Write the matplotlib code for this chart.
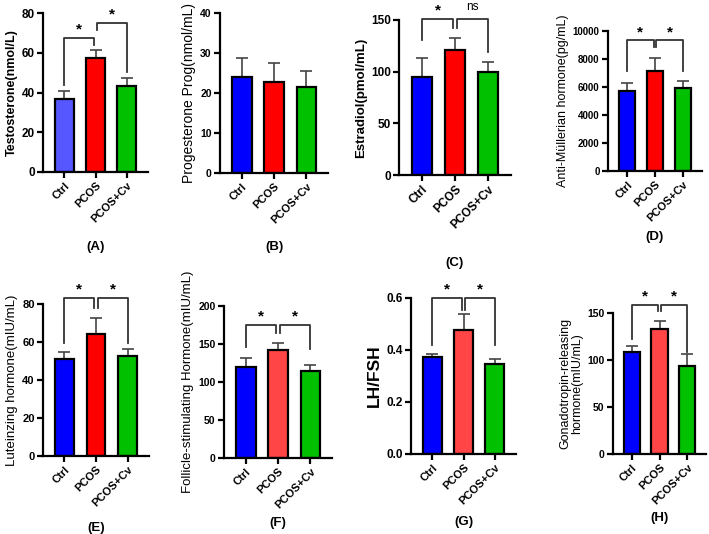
import numpy as np
import matplotlib
matplotlib.use("Agg")
import matplotlib.pyplot as plt

plt.rcParams["font.family"] = ["Liberation Sans", "DejaVu Sans"]

W, H = 709, 534  # figure size in pixels

groups = ["Ctrl", "PCOS", "PCOS+Cv"]

# means and upper error (SD)
testo_mean = [36.5, 57.5, 43.5]
testo_err = [4.5, 4.0, 4.0]
prog_mean = [24.0, 22.8, 21.6]
prog_err = [4.8, 4.8, 3.8]
estra_mean = [95, 121, 99.5]
estra_err = [18, 12, 9.5]
amh_mean = [5700, 7150, 5950]
amh_err = [600, 950, 450]
lh_mean = [51, 64, 52.5]
lh_err = [4, 8.5, 4]
fsh_mean = [120, 142, 114]
fsh_err = [12, 9, 9]
ratio_mean = [0.372, 0.477, 0.346]
ratio_err = [0.012, 0.06, 0.021]
gnrh_mean = [108, 133.5, 93.5]
gnrh_err = [7, 7.5, 13]

# significance brackets: (i, j, top, leg_i end, leg_j end, text)
testo_sig = [(0, 1, 67.5, 43.7, 64, "*"), (1, 2, 75, 71.5, 50.5, "*")]
estra_sig = [(0, 1, 151, 131, 142, "*"), (1, 2, 151, 142, 119, "ns")]
amh_sig = [(0, 1, 9330, 7120, 8860, "*"), (1, 2, 9330, 8860, 7120, "*")]
lh_sig = [(0, 1, 83, 59.6, 77.7, "*"), (1, 2, 83, 77.7, 59.3, "*")]
fsh_sig = [(0, 1, 175, 146, 164, "*"), (1, 2, 175, 164, 144, "*")]
ratio_sig = [(0, 1, 0.6, 0.42, 0.555, "*"), (1, 2, 0.6, 0.555, 0.42, "*")]
gnrh_sig = [(0, 1, 159, 122.7, 151.8, "*"), (1, 2, 159, 151.8, 108.5, "*")]

BLUE, LBLUE = "#0000ff", "#5757ff"
RED, LRED = "#ff0000", "#ff4545"
GREEN = "#00c000"


def panel(fig, box, mean, err, ymax, step, ylabel, tag, tag_y, colors,
          sig=(), label_bold=True, fmt="{:g}", ysize=8, tsize=8, xsize=8):
    left, right, top, bottom = box
    ax = fig.add_axes([left / W, 1 - bottom / H, (right - left) / W, (bottom - top) / H])
    x = np.arange(len(groups))
    ax.bar(x, mean, width=0.6, color=colors, edgecolor="black", linewidth=1.6, zorder=2)
    ax.errorbar(x, mean, yerr=[np.zeros(len(err)), err], fmt="none",
                ecolor="#444444", elinewidth=1.2, capsize=4, capthick=1.2, zorder=1)
    ax.set_xlim(-0.68, 2.68)
    ax.set_ylim(0, ymax)
    ticks = np.arange(0, ymax + step / 2, step)
    ax.set_yticks(ticks)
    ax.set_yticklabels([fmt.format(t) for t in ticks], fontsize=tsize, fontweight="bold")
    ax.set_xticks(x)
    ax.set_xticklabels(groups, rotation=45, ha="right", rotation_mode="anchor",
                       fontsize=xsize, fontweight="bold")
    for s in ["top", "right"]:
        ax.spines[s].set_visible(False)
    for s in ["left", "bottom"]:
        ax.spines[s].set_linewidth(1.6)
    ax.tick_params(width=1.6, length=4, direction="out", pad=2)
    ax.set_ylabel(ylabel, fontsize=ysize, fontweight="bold" if label_bold else "normal",
                  labelpad=3, linespacing=1.0)
    for i, j, ytop, yi, yj, txt in sig:
        xi = i + (0.05 if i == 1 else 0)
        xj = j - (0.05 if j == 1 else 0)
        ax.plot([xi, xi, xj, xj], [yi, ytop, ytop, yj], color="#333333", lw=1.3,
                clip_on=False, zorder=3)
        if txt == "ns":
            ax.annotate(txt, ((xi + xj) / 2, ytop), xytext=(0, 4), textcoords="offset points",
                        ha="center", va="bottom", fontsize=8.5, annotation_clip=False)
        else:
            ax.annotate(txt, ((xi + xj) / 2, ytop), xytext=(0, 1), textcoords="offset points",
                        ha="center", va="bottom", fontsize=11, fontweight="bold",
                        annotation_clip=False)
    fig.text((left + right) / 2 / W, 1 - tag_y / H, tag, ha="center", va="center",
             fontsize=9.5, fontweight="bold")
    return ax


fig = plt.figure(figsize=(W / 100, H / 100), dpi=100)

panel(fig, (43, 148, 13, 172), testo_mean, testo_err, 80, 20, "Testosterone(nmol/L)",
      "(A)", 247, [LBLUE, RED, GREEN], testo_sig, ysize=9, tsize=8.5, xsize=8)
panel(fig, (220, 328, 13, 173), prog_mean, prog_err, 40, 10, "Progesterone Prog(nmol/mL)",
      "(B)", 247, [BLUE, RED, GREEN], label_bold=False, ysize=10, tsize=7.5, xsize=8)
panel(fig, (399, 511, 20, 175), estra_mean, estra_err, 150, 50, "Estradiol(pmol/mL)",
      "(C)", 263, [BLUE, RED, GREEN], estra_sig, ysize=9.5, tsize=8.5, xsize=8.5)
panel(fig, (608, 702, 31, 171), amh_mean, amh_err, 10000, 2000, "Anti-Müllerian hormone(pg/mL)",
      "(D)", 237, [BLUE, RED, GREEN], amh_sig, label_bold=False, ysize=9, tsize=7, xsize=8)
panel(fig, (43, 149, 304, 456), lh_mean, lh_err, 80, 20, "Luteinzing hormone(mIU/mL)",
      "(E)", 528, [BLUE, RED, GREEN], lh_sig, label_bold=False, ysize=9.5, tsize=8, xsize=8)
panel(fig, (224, 332, 306, 458), fsh_mean, fsh_err, 200, 50, "Follicle-stimulating Hormone(mIU/mL)",
      "(F)", 523, [BLUE, LRED, GREEN], fsh_sig, label_bold=False, ysize=9.5, tsize=7.5, xsize=8)
panel(fig, (411, 516, 298, 454), ratio_mean, ratio_err, 0.6, 0.2, "LH/FSH",
      "(G)", 522, [BLUE, LRED, GREEN], ratio_sig, fmt="{:.1f}", ysize=12.5, tsize=8.5, xsize=8)
panel(fig, (613, 706, 313, 454), gnrh_mean, gnrh_err, 150, 50,
      "Gonadotropin-releasing\nhormone(mIU/mL)",
      "(H)", 518, [BLUE, LRED, GREEN], gnrh_sig, label_bold=False, ysize=9, tsize=7.5, xsize=8)

fig.savefig("out.png", dpi=100)
